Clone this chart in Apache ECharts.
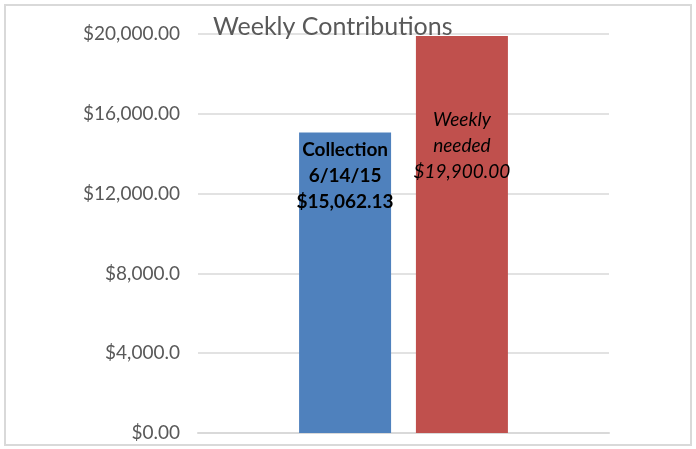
<!DOCTYPE html>
<html>
<head>
<meta charset="utf-8">
<script src="https://cdn.jsdelivr.net/npm/echarts@6/dist/echarts.min.js"></script>
<style>
	html, body { margin: 0; padding: 0; background: #fff; }
	#chart { width: 696px; height: 449px; }
</style>
</head>
<body>
<div id="chart"></div>
<script>
// data
var categories = ['Week'];
var collectionValues = [15062.13];
var neededValues = [19900];
var tickValues = [0, 4000, 8000, 12000, 16000, 20000];
var tickLabels = ['$0.00', '$4,000.0', '$8,000.0', '$12,000.00', '$16,000.00', '$20,000.00'];

var myChart = echarts.init(document.getElementById('chart'));

var option = {
	animation: false,
	textStyle: { fontFamily: 'Lato' },
	title: {
		text: 'Weekly Contributions',
		left: 208,
		top: 9,
		textStyle: { fontSize: 25, fontWeight: 'normal', color: '#595959', fontFamily: 'Lato' }
	},
	graphic: [{
		type: 'rect',
		shape: { x: 5, y: 5, width: 686, height: 440 },
		style: { fill: 'none', stroke: '#d9d9d9', lineWidth: 2 },
		z: -1
	}],
	grid: { left: 198, right: 87, top: 34, bottom: 16 },
	xAxis: {
		type: 'category',
		data: categories,
		axisLine: { show: true, lineStyle: { color: '#d9d9d9', width: 2 } },
		axisTick: { show: false },
		axisLabel: { show: false }
	},
	yAxis: {
		type: 'value',
		min: 0,
		max: 20000,
		interval: 4000,
		axisLine: { show: false },
		axisTick: { show: false },
		splitLine: { lineStyle: { color: '#d9d9d9', width: 1.5 } },
		axisLabel: {
			color: '#595959',
			fontSize: 19,
			margin: 18,
			formatter: function(value){
				var i = tickValues.indexOf(value);
				return i >= 0 ? tickLabels[i] : '';
			}
		}
	},
	series: [
		{
			name: 'Collection',
			type: 'bar',
			data: collectionValues,
			barWidth: 92,
			barGap: '27%',
			itemStyle: { color: '#4f81bd' },
			label: {
				show: true,
				position: 'insideTop',
				distance: 4,
				color: '#000',
				fontWeight: 'bold',
				fontSize: 19,
				lineHeight: 26,
				formatter: 'Collection\n6/14/15\n$15,062.13'
			}
		},
		{
			name: 'Weekly needed',
			type: 'bar',
			data: neededValues,
			barWidth: 92,
			itemStyle: { color: '#c0504d' },
			label: {
				show: true,
				position: 'insideTop',
				distance: 5,
				offset: [0, 66],
				color: '#000',
				fontStyle: 'italic',
				fontSize: 19,
				lineHeight: 26,
				formatter: 'Weekly\nneeded\n$19,900.00'
			}
		}
	]
};

myChart.setOption(option);
</script>
</body>
</html>
